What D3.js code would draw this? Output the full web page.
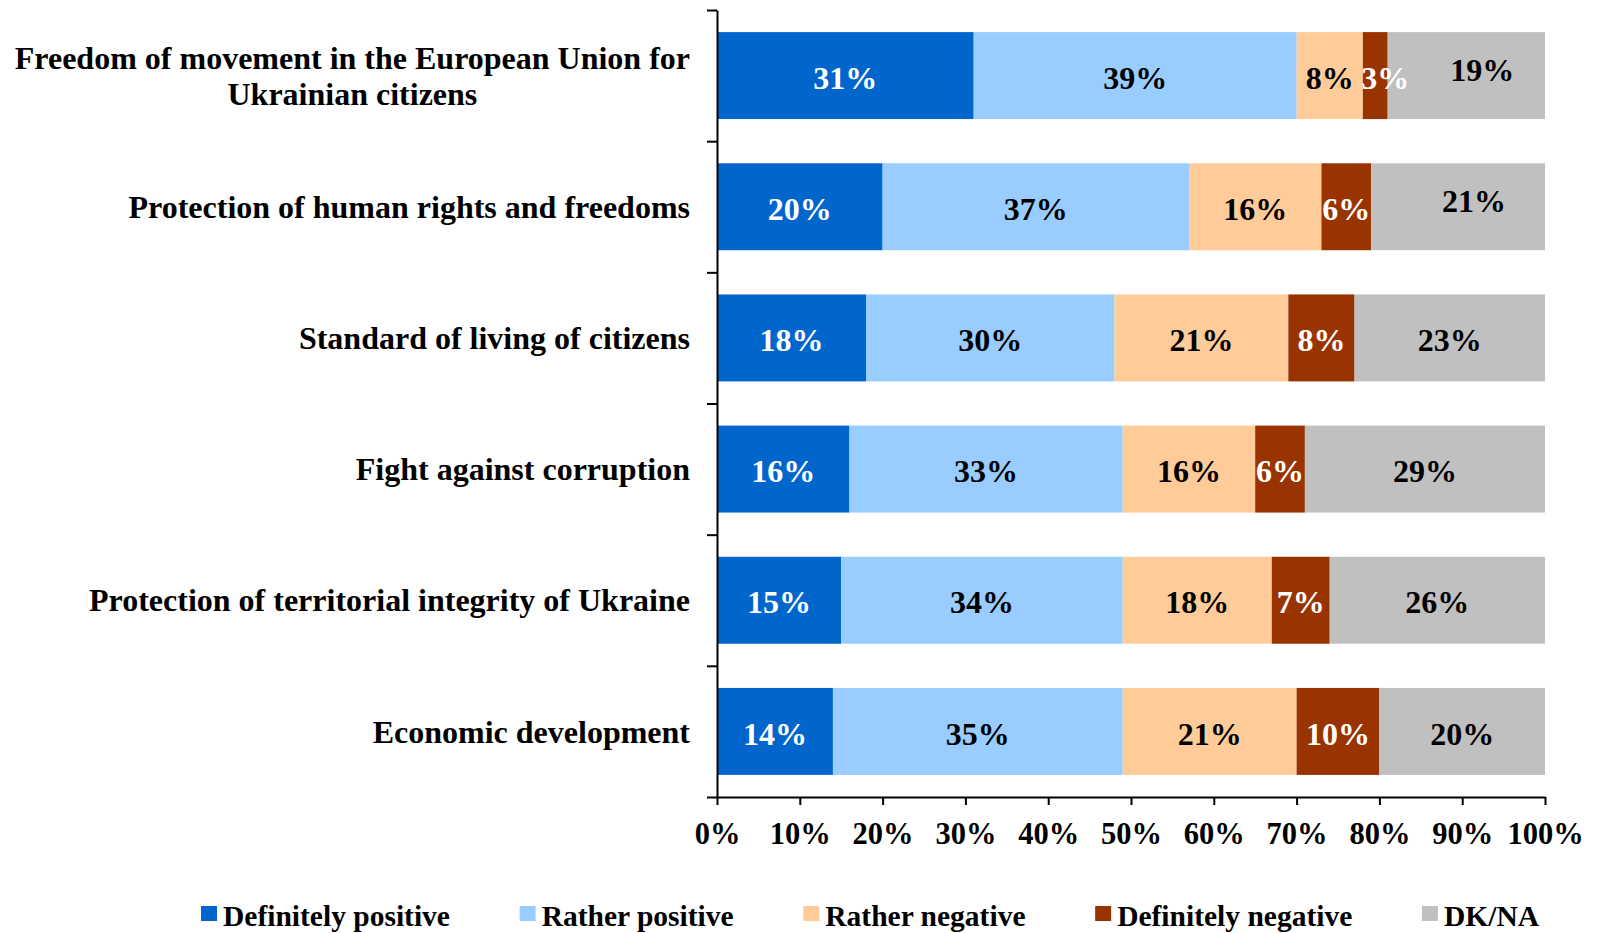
<!DOCTYPE html>
<html>
<head>
<meta charset="utf-8">
<script src="https://cdn.jsdelivr.net/npm/d3@7"></script>
<style>
  html, body { margin: 0; padding: 0; background: #fff; }
  svg { display: block; }
  text { font-family: "Liberation Serif", "Times New Roman", serif; font-weight: bold; }
</style>
</head>
<body>
<svg id="chart" width="1600" height="933"></svg>
<script>
// ---- data ----
const categories = [
  "Freedom of movement in the European Union for|Ukrainian citizens",
  "Protection of human rights and freedoms",
  "Standard of living of citizens",
  "Fight against corruption",
  "Protection of territorial integrity of Ukraine",
  "Economic development"
];
const seriesNames = ["Definitely positive", "Rather positive", "Rather negative", "Definitely negative", "DK/NA"];
const definitelyPositive = [31, 20, 18, 16, 15, 14];
const ratherPositive     = [39, 37, 30, 33, 34, 35];
const ratherNegative     = [8, 16, 21, 16, 18, 21];
const definitelyNegative = [3, 6, 8, 6, 7, 10];
const dkna               = [19, 21, 23, 29, 26, 20];
const xTicks = [0, 10, 20, 30, 40, 50, 60, 70, 80, 90, 100];

const colors = ["#0066CC", "#99CCFF", "#FFCC99", "#993300", "#C0C0C0"];
const labelColors = ["#ffffff", "#000000", "#000000", "#ffffff", "#000000"];

(function draw() {
const svg = d3.select("#chart");
const pLeft = 717, pRight = 1545, pTop = 10, pBottom = 797;

const x = d3.scaleLinear().domain([0, 100]).range([pLeft, pRight]);
const y = d3.scaleBand().domain(categories).range([pTop, pBottom])
  .paddingInner(0.337).paddingOuter(0.337 / 2);

const seriesValues = [definitelyPositive, ratherPositive, ratherNegative, definitelyNegative, dkna];
const rows = categories.map((c, i) => {
  const r = { cat: c };
  seriesNames.forEach((s, k) => r[s] = seriesValues[k][i]);
  return r;
});
const stack = d3.stack().keys(seriesNames)(rows);

// bars
const layers = svg.append("g").selectAll("g").data(stack).join("g")
  .attr("fill", (d, k) => colors[k]);
layers.selectAll("rect").data(d => d).join("rect")
  .attr("x", d => x(d[0]))
  .attr("y", d => y(d.data.cat))
  .attr("width", d => x(d[1]) - x(d[0]))
  .attr("height", y.bandwidth());

// value labels
stack.forEach((layer, k) => {
  svg.append("g").selectAll("text").data(layer).join("text")
    .attr("x", (d, i) => {
      let cx = (x(d[0]) + x(d[1])) / 2;
      if (k === 4 && i < 2) cx += 16;
      if (k === 3 && i === 0) cx += 10;
      return cx;
    })
    .attr("y", (d, i) => {
      let cy = y(d.data.cat) + y.bandwidth() / 2 + 2;
      if (k === 4 && i < 2) cy -= 8;
      return cy;
    })
    .attr("dy", "0.35em")
    .attr("text-anchor", "middle")
    .attr("font-size", 32)
    .attr("fill", labelColors[k])
    .text(d => (d[1] - d[0]) + "%");
});

// y axis: line with ticks at band boundaries
const yb = d3.scaleLinear().domain([0, categories.length]).range([pTop, pBottom]);
const yAxisG = svg.append("g").attr("transform", `translate(${pLeft},0)`)
  .call(d3.axisLeft(yb).tickValues(d3.range(0, categories.length + 1)).tickSizeInner(10).tickSizeOuter(0).tickFormat(""));
yAxisG.select(".domain").attr("stroke", "#000").attr("stroke-width", 2);
yAxisG.selectAll(".tick line").attr("stroke", "#000").attr("stroke-width", 2);

// x axis
const xAxisG = svg.append("g").attr("transform", `translate(0,${pBottom})`)
  .call(d3.axisBottom(x).tickValues(xTicks).tickSizeInner(8).tickSizeOuter(0).tickPadding(17).tickFormat(d => d + "%"));
xAxisG.select(".domain").attr("stroke", "#000").attr("stroke-width", 2);
xAxisG.selectAll(".tick line").attr("stroke", "#000").attr("stroke-width", 2);
xAxisG.selectAll(".tick text")
  .attr("font-family", "Liberation Serif, serif").attr("font-weight", "bold")
  .attr("font-size", 30.5).attr("fill", "#000");

// category labels
const catG = svg.append("g");
categories.forEach(c => {
  const lines = c.split("|");
  const cy = y(c) + y.bandwidth() / 2;
  const lh = 36;
  const t = catG.append("text").attr("font-size", 32).attr("fill", "#000");
  const tspans = lines.map((ln, j) => t.append("tspan")
    .attr("y", cy + (j - (lines.length - 1) / 2) * lh)
    .attr("dy", "0.35em")
    .text(ln));
  if (lines.length === 1) {
    t.attr("text-anchor", "end");
    tspans[0].attr("x", 690);
  } else {
    const maxW = d3.max(tspans, s => s.node().getComputedTextLength());
    t.attr("text-anchor", "middle");
    tspans.forEach(s => s.attr("x", 690 - maxW / 2));
  }
});

// legend
const legG = svg.append("g");
const items = seriesNames.map((s, k) => {
  const g = legG.append("g");
  g.append("rect").attr("width", 16).attr("height", 15).attr("y", 906).attr("fill", colors[k]);
  const t = g.append("text").attr("x", 22).attr("y", 926).attr("font-size", 29.5).attr("fill", "#000").text(s);
  return { g, w: 22 + t.node().getComputedTextLength() };
});
const legStart = 201, legEnd = 1539;
const gap = (legEnd - legStart - d3.sum(items, d => d.w)) / (items.length - 1);
let cx = legStart;
items.forEach(it => { it.g.attr("transform", `translate(${cx},0)`); cx += it.w + gap; });
})();
</script>
</body>
</html>
